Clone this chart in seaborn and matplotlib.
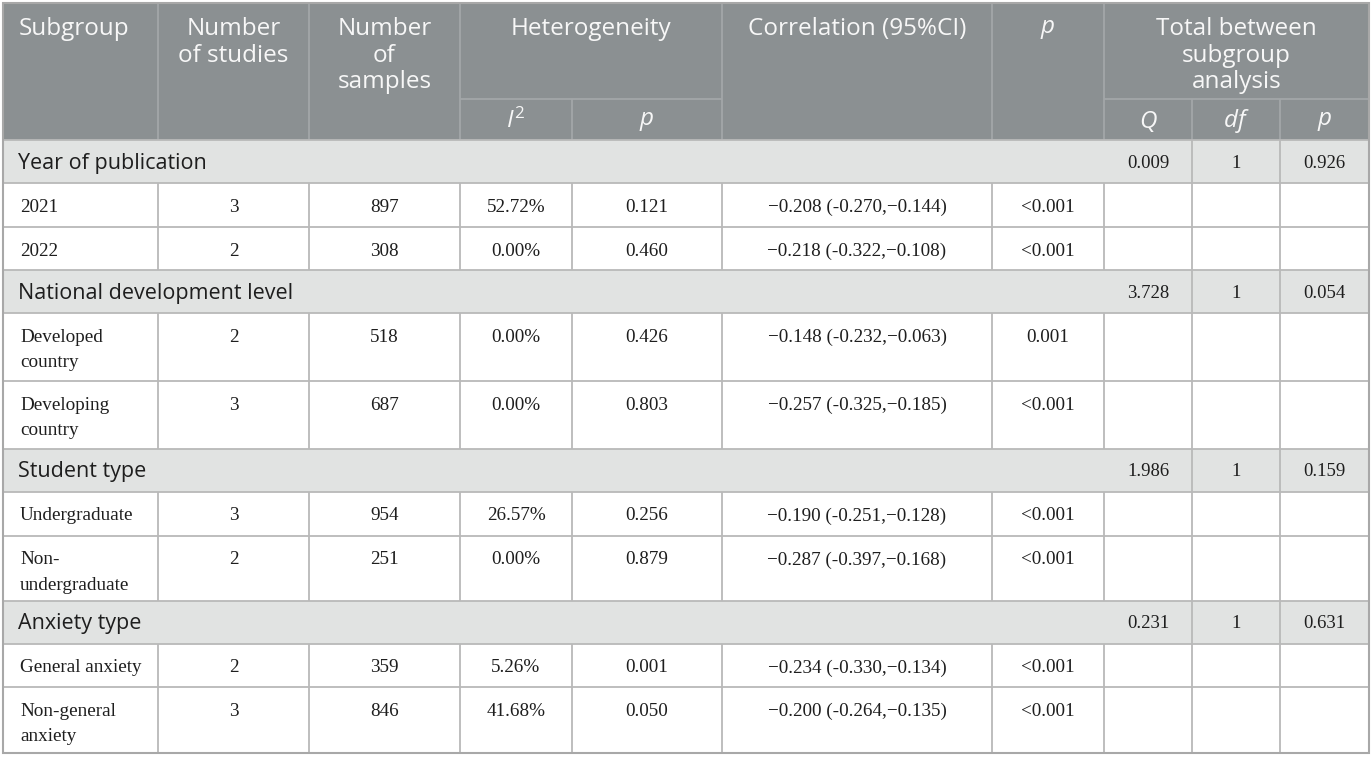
import matplotlib.pyplot as plt
import matplotlib.patches as mpatches
import seaborn as sns

# table content
sections = ['Year of publication', 'National development level', 'Student type', 'Anxiety type']
sec_Q = ['0.009', '3.728', '1.986', '0.231']
sec_df = ['1', '1', '1', '1']
sec_p = ['0.926', '0.054', '0.159', '0.631']

subgroups = [['2021', '2022'],
             ['Developed\ncountry', 'Developing\ncountry'],
             ['Undergraduate', 'Non-\nundergraduate'],
             ['General anxiety', 'Non-general\nanxiety']]
n_studies = [['3', '2'], ['2', '3'], ['3', '2'], ['2', '3']]
n_samples = [['897', '308'], ['518', '687'], ['954', '251'], ['359', '846']]
i2 = [['52.72%', '0.00%'], ['0.00%', '0.00%'], ['26.57%', '0.00%'], ['5.26%', '41.68%']]
het_p = [['0.121', '0.460'], ['0.426', '0.803'], ['0.256', '0.879'], ['0.001', '0.050']]
corr = [['\u22120.208 (-0.270,\u22120.144)', '\u22120.218 (-0.322,\u22120.108)'],
        ['\u22120.148 (-0.232,\u22120.063)', '\u22120.257 (-0.325,\u22120.185)'],
        ['\u22120.190 (-0.251,\u22120.128)', '\u22120.287 (-0.397,\u22120.168)'],
        ['\u22120.234 (-0.330,\u22120.134)', '\u22120.200 (-0.264,\u22120.135)']]
p_val = [['<0.001', '<0.001'], ['0.001', '<0.001'], ['<0.001', '<0.001'], ['<0.001', '<0.001']]

sns.set_style('white')
plt.rcParams['font.family'] = ['Open Sans', 'DejaVu Sans']
plt.rcParams['mathtext.fontset'] = 'custom'
plt.rcParams['mathtext.it'] = 'Open Sans:italic'
plt.rcParams['mathtext.rm'] = 'Open Sans'

W, H = 1372, 759
fig = plt.figure(figsize=(W / 100, H / 100), dpi=100)
ax = fig.add_axes([0, 0, 1, 1])
ax.set_xlim(0, W)
ax.set_ylim(H, 0)
ax.axis('off')

head_bg = '#8b9092'
head_line = '#a3a7a9'
sec_bg = '#e1e3e2'
grid = '#b9b9b9'
txt = '#1e1e1e'
serif = 'Liberation Serif'
head_fs = 17.5
body_fs = 13.8

cols = [3, 158, 309, 460, 572, 722, 992, 1104, 1192, 1280, 1369]
head_top, head_mid, head_bot = 3, 99, 140
sec_h = 43
row_h = [[44, 43], [68, 68], [44, 65], [43, 66]]


def rect(x0, y0, x1, y1, fc):
    ax.add_patch(mpatches.Rectangle((x0, y0), x1 - x0, y1 - y0, facecolor=fc,
                                    edgecolor='none', zorder=0))


def hline(y, x0, x1, c, lw=1.3):
    ax.plot([x0, x1], [y, y], color=c, lw=lw, zorder=2, solid_capstyle='butt')


def vline(x, y0, y1, c, lw=1.3):
    ax.plot([x, x], [y0, y1], color=c, lw=lw, zorder=2, solid_capstyle='butt')


# header
rect(cols[0], head_top, cols[-1], head_bot, head_bg)
for x in cols[1:-1]:
    if x in (572, 1192, 1280):
        vline(x, head_mid, head_bot, head_line)
    else:
        vline(x, head_top, head_bot, head_line)
hline(head_mid, cols[3], cols[5], head_line)
hline(head_mid, cols[7], cols[-1], head_line)

hkw = dict(color='#f7f7f7', fontsize=head_fs, va='top', linespacing=1.15, zorder=3)
ty = 17
ax.text(19, ty, 'Subgroup', ha='left', **hkw)
ax.text((cols[1] + cols[2]) / 2, ty, 'Number\nof studies', ha='center', **hkw)
ax.text((cols[2] + cols[3]) / 2, ty, 'Number\nof\nsamples', ha='center', **hkw)
ax.text((cols[3] + cols[5]) / 2, ty, 'Heterogeneity', ha='center', **hkw)
ax.text((cols[5] + cols[6]) / 2, ty, 'Correlation (95%CI)', ha='center', **hkw)
ax.text((cols[6] + cols[7]) / 2, ty, r'$p$', ha='center', **hkw)
ax.text((cols[7] + cols[-1]) / 2, ty, 'Total between\nsubgroup\nanalysis', ha='center', **hkw)
sub_heads = [(cols[3], cols[4], r'$I^2$'), (cols[4], cols[5], r'$p$'),
             (cols[7], cols[8], r'$Q$'), (cols[8], cols[9], r'$df$'), (cols[9], cols[10], r'$p$')]
for x0, x1, s in sub_heads:
    ax.text((x0 + x1) / 2, 121, s, ha='center', va='center', color='#f7f7f7',
            fontsize=head_fs, zorder=3)

# body
y = head_bot
for i, sec in enumerate(sections):
    rect(cols[0], y, cols[-1], y + sec_h, sec_bg)
    hline(y, cols[0], cols[-1], grid)
    for x in (cols[8], cols[9]):
        vline(x, y, y + sec_h, grid)
    ax.text(18, y + sec_h / 2 + 1.5, sec, ha='left', va='center', fontsize=15.5,
            color=txt, zorder=3)
    for (x0, x1), s in zip([(cols[7], cols[8]), (cols[8], cols[9]), (cols[9], cols[10])],
                           [sec_Q[i], sec_df[i], sec_p[i]]):
        ax.text((x0 + x1) / 2, y + sec_h / 2 + 1.5, s, ha='center', va='center',
                fontsize=13.5, family=serif, color=txt, zorder=3)
    y += sec_h
    for j in range(2):
        h = row_h[i][j]
        hline(y, cols[0], cols[-1], grid)
        for x in cols[1:-1]:
            vline(x, y, y + h, grid)
        values = [n_studies[i][j], n_samples[i][j], i2[i][j], het_p[i][j],
                  corr[i][j], p_val[i][j], '', '', '']
        ax.text(20, y + 15.5, subgroups[i][j], ha='left', va='top', fontsize=body_fs,
                family=serif, color=txt, linespacing=1.65, zorder=3)
        for k, s in enumerate(values):
            ax.text((cols[k + 1] + cols[k + 2]) / 2, y + 15.5, s, ha='center', va='top',
                    fontsize=body_fs, family=serif, color=txt, zorder=3)
        y += h

# outer border
ax.add_patch(mpatches.Rectangle((cols[0], head_top), cols[-1] - cols[0], y - head_top,
                                facecolor='none', edgecolor='#a8a8a8', lw=1.5, zorder=4))

fig.savefig('out.png', dpi=100)
